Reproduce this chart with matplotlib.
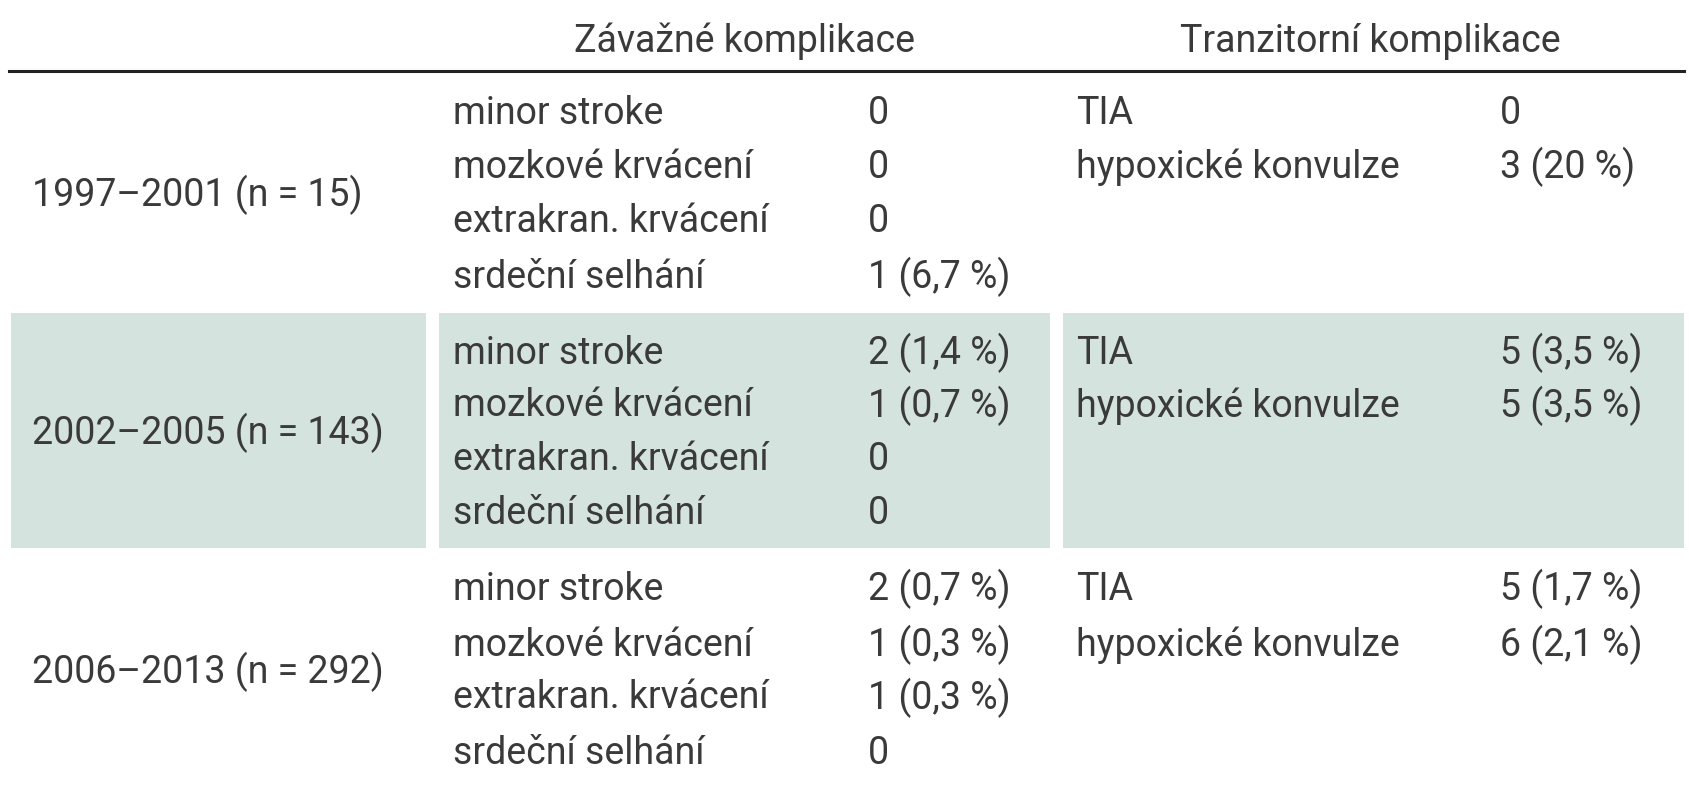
import matplotlib
matplotlib.use("Agg")
import matplotlib.pyplot as plt
from matplotlib.patches import Rectangle

periods = ["1997–2001 (n = 15)", "2002–2005 (n = 143)", "2006–2013 (n = 292)"]
severe_items = ["minor stroke", "mozkové krvácení", "extrakran. krvácení", "srdeční selhání"]
severe_vals = [
    ["0", "0", "0", "1 (6,7 %)"],
    ["2 (1,4 %)", "1 (0,7 %)", "0", "0"],
    ["2 (0,7 %)", "1 (0,3 %)", "1 (0,3 %)", "0"],
]
trans_items = ["TIA", "hypoxické konvulze"]
trans_vals = [
    ["0", "3 (20 %)"],
    ["5 (3,5 %)", "5 (3,5 %)"],
    ["5 (1,7 %)", "6 (2,1 %)"],
]
headers = ["Závažné komplikace", "Tranzitorní komplikace"]

W, H = 1689, 800
fig = plt.figure(figsize=(W / 100, H / 100), dpi=100)
ax = fig.add_axes([0, 0, 1, 1])
ax.set_xlim(0, W); ax.set_ylim(H, 0); ax.axis("off")

font = dict(family=["Roboto", "DejaVu Sans"], fontsize=27, color="#3a3a3a", va="center")
shade = "#d5e3df"

# shaded middle row
for x0, x1 in [(11, 426), (439, 1050), (1063, 1684)]:
    ax.add_patch(Rectangle((x0, 313), x1 - x0, 235, color=shade, lw=0))

ax.text(745, 41, headers[0], ha="center", **font)
ax.text(1370, 41, headers[1], ha="center", **font)
ax.plot([9, 1684], [71, 71], color="#222222", lw=2.2)

row_y = [[113, 167, 222, 277], [353, 406, 460, 513], [589, 645, 698, 754]]
for r, period in enumerate(periods):
    ys = row_y[r]
    ax.text(32, (ys[0] + ys[-1]) / 2, period, ha="left", **font)
    for i, item in enumerate(severe_items):
        ax.text(453, ys[i], item, ha="left", **font)
        ax.text(868, ys[i], severe_vals[r][i], ha="left", **font)
    for i, item in enumerate(trans_items):
        ax.text(1076, ys[i], item, ha="left", **font)
        ax.text(1500, ys[i], trans_vals[r][i], ha="left", **font)

fig.savefig("out.png", dpi=100)
